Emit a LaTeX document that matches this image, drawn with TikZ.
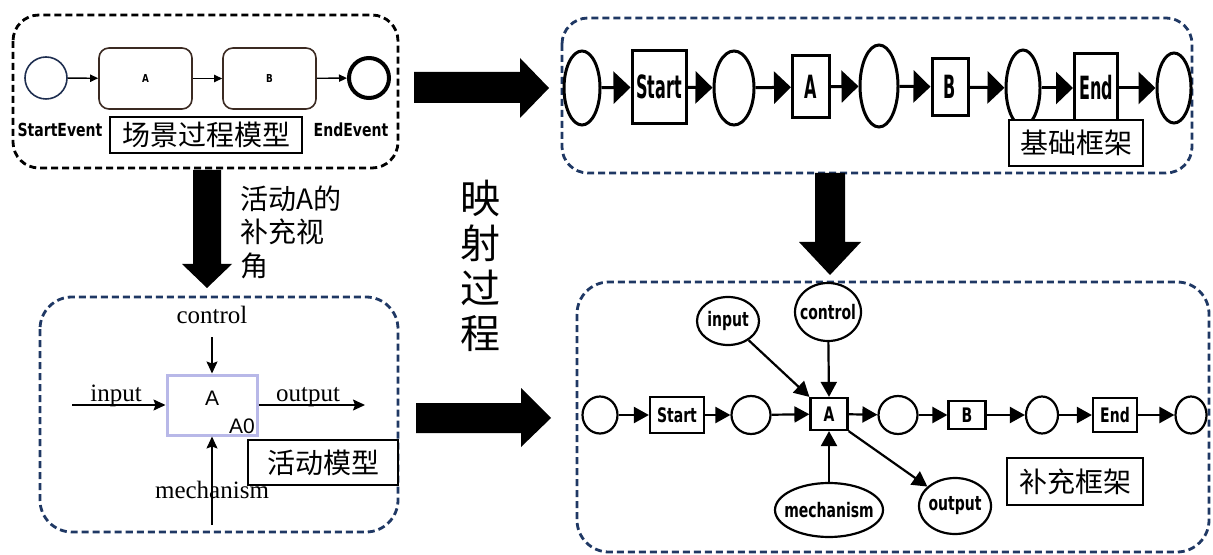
\documentclass[tikz,border=0pt]{standalone}
\usepackage{fontspec}
\setmainfont{Liberation Serif}
\newfontfamily\cjk{Noto Sans CJK SC}
\newfontfamily\lsans{Liberation Sans}
\newfontfamily\dvtiny[FakeStretch=0.8]{DejaVu Sans}
\newfontfamily\dvwide[FakeStretch=0.78]{DejaVu Sans}
\newfontfamily\dvmid[FakeStretch=0.7]{DejaVu Sans}
\newfontfamily\dvnarrow[FakeStretch=0.5]{DejaVu Sans}
\usetikzlibrary{arrows.meta,shapes.geometric}

\definecolor{navy}{HTML}{1F3864}
\definecolor{lav}{HTML}{B8B8E8}
\definecolor{bbrown}{HTML}{3B2A22}
\definecolor{startblue}{HTML}{1E2E50}

\begin{document}
\begin{tikzpicture}[x=0.5pt,y=-0.5pt,
  frame/.style={line width=1.4pt, dash pattern=on 3.5pt off 2pt, rounded corners=13pt},
  tag/.style={draw, line width=1pt, fill=white, inner sep=0pt,
    font=\cjk\fontsize{14}{16}\selectfont},
  bigarrow/.style={fill=black},
  % scenario process model
  task/.style={draw=bbrown, line width=0.8pt, rounded corners=5pt, inner sep=0pt,
    minimum width=46.5pt, minimum height=30.5pt,
    font=\dvtiny\bfseries\fontsize{5.5}{6}\selectfont},
  evtext/.style={anchor=base, inner sep=0pt, font=\dvwide\bfseries\fontsize{9}{10}\selectfont},
  thinarrow/.style={line width=0.7pt, -{Triangle[length=4pt,width=3.6pt]}},
  % base net
  tplace/.style={ellipse, draw, line width=1.5pt, inner sep=0pt},
  ttrans/.style={draw, line width=1.5pt, inner sep=0pt,
    font=\dvnarrow\bfseries\fontsize{16}{18}\selectfont},
  tarrow/.style={line width=1.5pt, -{Triangle[length=8.5pt,width=16pt]}},
  % extended net
  bplace/.style={ellipse, draw, line width=1.1pt, inner sep=0pt},
  btrans/.style={draw, line width=1.1pt, inner sep=0pt,
    font=\dvmid\bfseries\fontsize{10}{12}\selectfont},
  barrow/.style={line width=1.1pt, -{Triangle[length=7.5pt,width=8pt]}},
  % activity model
  itext/.style={anchor=base, inner sep=0pt, font=\fontsize{12.5}{14}\selectfont},
  iarrow/.style={line width=0.7pt, -{Stealth[length=6pt,width=5.5pt,inset=1pt]}},
]
\useasboundingbox (0,0) rectangle (1213,555);

% ---------- dashed frames ----------
\draw[frame] (13,15) rectangle (398,168);
\draw[frame, navy] (562,18) rectangle (1192,173);
\draw[frame, navy, rounded corners=16pt] (40,297) rectangle (398,532);
\draw[frame, navy, rounded corners=16pt] (577,282) rectangle (1209,552);

% ---------- scenario process model ----------
\node[circle, draw=startblue, line width=0.8pt, minimum size=21pt, inner sep=0pt] (se) at (46,78) {};
\node[task] (ta) at (145.5,78.5) {A};
\node[task] (tb) at (269.5,78.5) {B};
\node[circle, draw, line width=2pt, minimum size=20pt, inner sep=0pt] (ee) at (369,78) {};
\draw[thinarrow] (se) -- (ta);
\draw[thinarrow] (ta) -- (tb);
\draw[thinarrow] (tb) -- (ee);
\node[evtext] (selbl) at (60,137) {StartEvent};
\node[evtext] (eelbl) at (351,137) {EndEvent};
\node[tag, minimum width=96pt, minimum height=18pt] (t1) at (206,135) {场景过程模型};

% ---------- base net ----------
\node[tplace, minimum width=18pt, minimum height=37pt] (p1) at (582,88) {};
\node[ttrans, minimum width=27pt, minimum height=36.5pt] (ts) at (659,87) {Start};
\node[tplace, minimum width=20pt, minimum height=37pt] (p2) at (734,88) {};
\node[ttrans, minimum width=18.5pt, minimum height=31pt] (tA) at (811,87) {A};
\node[tplace, minimum width=19pt, minimum height=41pt] (p3) at (879,86) {};
\node[ttrans, minimum width=18pt, minimum height=28.5pt] (tB) at (950,87) {B};
\node[tplace, minimum width=17pt, minimum height=38pt] (p4) at (1023,88) {};
\node[ttrans, minimum width=21.5pt, minimum height=34.5pt] (tE) at (1096,88) {End};
\node[tplace, minimum width=17pt, minimum height=35pt] (p5) at (1174,88) {};
\draw[tarrow] (p1) -- (ts);
\draw[tarrow] (ts) -- (p2);
\draw[tarrow] (p2) -- (tA);
\draw[tarrow] (tA) -- (p3);
\draw[tarrow] (p3) -- (tB);
\draw[tarrow] (tB) -- (p4);
\draw[tarrow] (p4) -- (tE);
\draw[tarrow] (tE) -- (p5);
\node[tag, minimum width=67pt, minimum height=23pt] (t2) at (1076,143) {基础框架};

% ---------- activity model ----------
\node[draw=lav, line width=1.5pt, minimum width=45pt, minimum height=30pt, inner sep=0pt] (ia) at (212,405) {};
\node[anchor=base, inner sep=0pt, font=\lsans\fontsize{10.5}{12}\selectfont] (ial) at (212,405) {A};
\node[anchor=base, inner sep=0pt, font=\lsans\fontsize{10.5}{12}\selectfont] (ia0) at (242,433) {A0};
\coordinate (ictl) at (212,337);
\coordinate (iin) at (72,405);
\coordinate (iout) at (365,405);
\coordinate (imech) at (212,525);
\draw[iarrow] (ictl) -- (ia.north);
\draw[iarrow] (iin) -- (ia.west);
\draw[iarrow] (ia.east) -- (iout);
\draw[iarrow] (imech) -- (ia.south);
\node[itext] (ictlt) at (212,323) {control};
\node[itext] (iint) at (116,401) {input};
\node[itext] (ioutt) at (308,401) {output};
\node[itext] (imecht) at (212,498) {mechanism};
\node[tag, minimum width=75pt, minimum height=22.5pt] (t3) at (323,462.5) {活动模型};

% ---------- extended net ----------
\node[bplace, minimum width=17.5pt, minimum height=18.5pt] (q1) at (600,415) {};
\node[btrans, minimum width=27pt, minimum height=18pt] (bs) at (677,415) {Start};
\node[bplace, minimum width=19.5pt, minimum height=19pt] (q2) at (751,415) {};
\node[btrans, minimum width=18.5pt, minimum height=16pt] (bA) at (829,414) {A};
\node[bplace, minimum width=19.5pt, minimum height=19pt] (q3) at (898,415) {};
\node[btrans, minimum width=18.5pt, minimum height=14pt] (bB) at (967,415) {B};
\node[bplace, minimum width=16pt, minimum height=18.5pt] (q4) at (1042,415) {};
\node[btrans, minimum width=22pt, minimum height=17pt] (bE) at (1115,415) {End};
\node[bplace, minimum width=15.5pt, minimum height=18.5pt] (q5) at (1191,415) {};
\draw[barrow] (q1) -- (bs);
\draw[barrow] (bs) -- (q2);
\draw[barrow] (q2) -- (bA);
\draw[barrow] (bA) -- (q3);
\draw[barrow] (q3) -- (bB);
\draw[barrow] (bB) -- (q4);
\draw[barrow] (q4) -- (bE);
\draw[barrow] (bE) -- (q5);
\node[bplace, minimum width=31pt, minimum height=24pt, font=\dvmid\bfseries\fontsize{10}{12}\selectfont] (bin) at (728,321) {\makebox[0pt]{input}};
\node[bplace, minimum width=33pt, minimum height=29pt, font=\dvmid\bfseries\fontsize{10}{12}\selectfont] (bctl) at (828,312) {\makebox[0pt]{control}};
\node[bplace, minimum width=54pt, minimum height=27pt, font=\dvmid\bfseries\fontsize{10}{12}\selectfont] (bmech) at (829,510) {\makebox[0pt]{mechanism}};
\node[bplace, minimum width=36pt, minimum height=28pt, font=\dvmid\bfseries\fontsize{10}{12}\selectfont] (bout) at (955,506) {\makebox[0pt]{output}};
\draw[barrow] (bin) -- (bA.north west);
\draw[barrow] (bctl) -- (bA.north);
\draw[barrow] (bmech) -- (bA.south);
\draw[barrow] (bA.south east) -- (bout);
\node[tag, minimum width=68pt, minimum height=23.5pt] (t4) at (1075,481.5) {补充框架};

% ---------- block arrows ----------
\fill[bigarrow] (414,72) -- (520,72) -- (520,58) -- (549,88) -- (520,118) -- (520,103) -- (414,103) -- cycle;
\fill[bigarrow] (416,403) -- (521,403) -- (521,388) -- (551,418) -- (521,447) -- (521,433) -- (416,433) -- cycle;
\fill[bigarrow] (193,170) -- (221,170) -- (221,264) -- (232,264) -- (207,288) -- (182,264) -- (193,264) -- cycle;
\fill[bigarrow] (815,173) -- (845,173) -- (845,242) -- (861,242) -- (830,275) -- (799,242) -- (815,242) -- cycle;

% ---------- captions ----------
\node[anchor=north west, inner sep=0pt, align=left, font=\cjk\fontsize{14}{16.75}\selectfont] (cap1) at (240,185) {活动A的\\补充视\\角};
\node[anchor=north, inner sep=0pt, align=center, font=\cjk\fontsize{20}{22.5}\selectfont] (cap2) at (480,180) {映\\射\\过\\程};
\end{tikzpicture}
\end{document}
